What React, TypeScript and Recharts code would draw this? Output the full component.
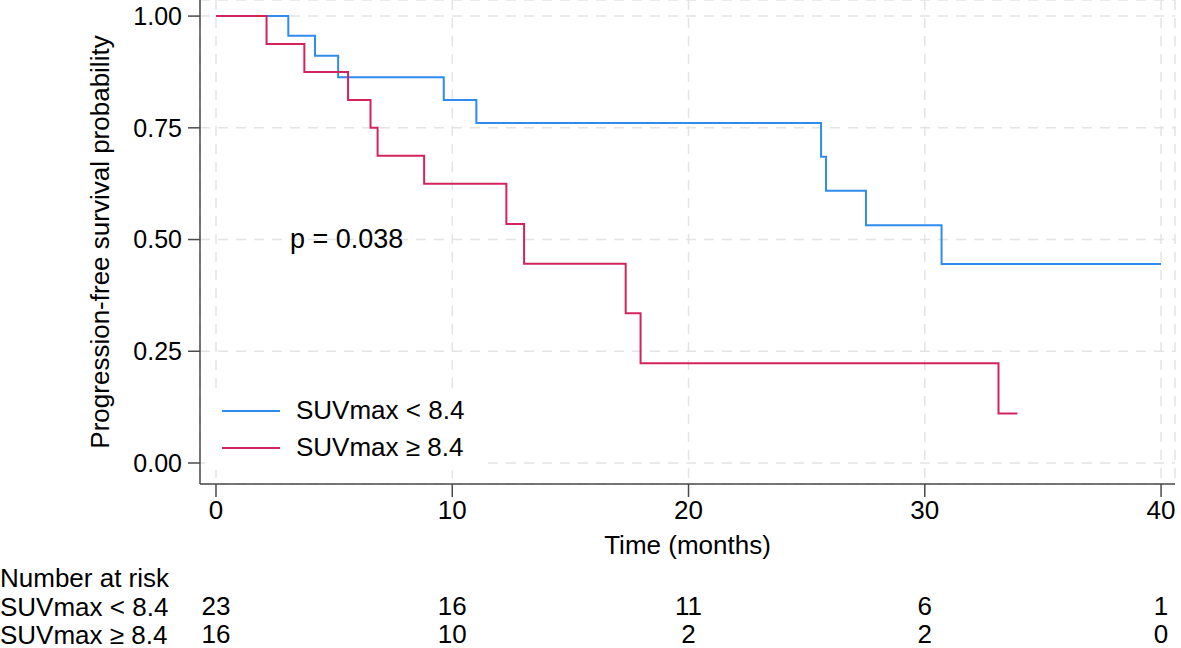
import React from 'react';
import { LineChart, Line, XAxis, YAxis, CartesianGrid, Legend } from 'recharts';

// Kaplan-Meier step points (time in months, survival)
const lowTimes = [0, 3.06, 4.19, 5.17, 9.64, 11.02, 25.61, 25.82, 27.51, 30.71, 40.0];
const lowSurv = [1, 0.956, 0.911, 0.863, 0.812, 0.761, 0.685, 0.609, 0.532, 0.445, 0.445];
const highTimes = [0, 2.14, 3.74, 5.59, 6.54, 6.84, 8.81, 12.29, 13.04, 17.34, 17.97, 33.12, 33.92];
const highSurv = [1, 0.9375, 0.875, 0.8125, 0.75, 0.6875, 0.625, 0.535, 0.446, 0.335, 0.223, 0.111, 0.111];

const xTicks = [0, 10, 20, 30, 40];
const yTicks = [0, 0.25, 0.5, 0.75, 1];
const riskLow = [23, 16, 11, 6, 1];
const riskHigh = [16, 10, 2, 2, 0];

const lowData = lowTimes.map((t, i) => ({ t, s: lowSurv[i] }));
const highData = highTimes.map((t, i) => ({ t, s: highSurv[i] }));

const FONT = '"Liberation Sans", Arial, sans-serif';
const FS = 25;
const FS_BIG = 26;
const BLUE = '#2f8cee';
const RED = '#d2245a';
const AXIS = '#4a4a4a';

function RiskTick(props: any) {
  const { x, y, payload } = props;
  const i = xTicks.indexOf(payload.value);
  return (
    <g fontFamily={FONT} fontSize={FS_BIG} fill="#000" textAnchor="middle">
      <text x={x} y={y} dy={20}>{payload.value}</text>
      <text x={x} y={y} dy={116}>{riskLow[i]}</text>
      <text x={x} y={y} dy={144}>{riskHigh[i]}</text>
    </g>
  );
}

function LegendBox(props: any) {
  const items = props.payload || [];
  return (
    <div style={{ background: '#fff', padding: '4px 0 4px 17px', fontFamily: FONT, fontSize: FS_BIG, color: '#000' }}>
      {items.map((it: any) => (
        <div key={it.value} style={{ display: 'flex', alignItems: 'center', height: 37 }}>
          <div style={{ width: 58, height: 2, background: it.color, marginRight: 16 }} />
          <span>{it.value}</span>
        </div>
      ))}
    </div>
  );
}

const textStyle: React.CSSProperties = {
  position: 'absolute',
  fontFamily: FONT,
  fontSize: FS_BIG,
  lineHeight: '26px',
  color: '#000',
  whiteSpace: 'nowrap',
};

export default function App() {
  return (
    <div style={{ position: 'absolute', left: 0, top: 0, width: 1181, height: 648, background: '#fff' }}>
      <LineChart width={1181} height={648} margin={{ top: 0, right: 6, left: 0, bottom: 0 }}>
        <CartesianGrid stroke="#e4e4e4" strokeDasharray="10 8" strokeWidth={1.5} />
        <XAxis
          type="number"
          dataKey="t"
          domain={[-0.677, 40.59]}
          ticks={xTicks}
          height={164}
          tickSize={13}
          tick={<RiskTick />}
          stroke={AXIS}
          strokeWidth={1.5}
          label={{ value: 'Time (months)', position: 'insideTop', offset: 52, fill: '#000', fontSize: FS_BIG, fontFamily: FONT }}
        />
        <YAxis
          type="number"
          dataKey="s"
          domain={[-0.047, 1.036]}
          ticks={yTicks}
          width={200}
          tickSize={12}
          tickMargin={6}
          tickFormatter={(v: number) => v.toFixed(2)}
          tick={{ fill: '#000', fontSize: FS, fontFamily: FONT }}
          stroke={AXIS}
          strokeWidth={1.5}
          label={{ value: 'Progression-free survival probability', angle: -90, position: 'center', fill: '#000', fontSize: FS_BIG, fontFamily: FONT }}
        />
        <Legend
          layout="vertical"
          align="center"
          verticalAlign="middle"
          content={<LegendBox />}
          wrapperStyle={{ left: 205, top: 388, width: 280 }}
        />
        <Line data={lowData} dataKey="s" name="SUVmax < 8.4" type="stepAfter" stroke={BLUE} strokeWidth={2} dot={false} activeDot={false} isAnimationActive={false} />
        <Line data={highData} dataKey="s" name="SUVmax ≥ 8.4" type="stepAfter" stroke={RED} strokeWidth={2} dot={false} activeDot={false} isAnimationActive={false} />
      </LineChart>
      <div style={{ ...textStyle, left: 290, top: 226, fontSize: 27, lineHeight: '27px' }}>p = 0.038</div>
      <div style={{ ...textStyle, left: 0, top: 565 }}>Number at risk</div>
      <div style={{ ...textStyle, left: 0, top: 594 }}>SUVmax &lt; 8.4</div>
      <div style={{ ...textStyle, left: 0, top: 622 }}>SUVmax ≥ 8.4</div>
    </div>
  );
}
